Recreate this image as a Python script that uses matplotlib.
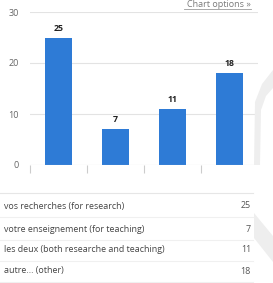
import numpy as np
import matplotlib
matplotlib.use("Agg")
import matplotlib.pyplot as plt
from matplotlib.patches import Polygon

# data
categories = ["vos recherches (for research)",
              "votre enseignement (for teaching)",
              "les deux (both researche and teaching)",
              "autre... (other)"]
counts = [25, 7, 11, 18]
y_ticks = [0, 10, 20, 30]

W, H = 273, 283
fig = plt.figure(figsize=(W / 100, H / 100), dpi=100)
fig.patch.set_facecolor("white")


def fx(px):
    return px / W


def fy(py):
    return 1 - py / H


# faint background shapes at right edge
shade = "#eeeeee"
up = [(273, 70), (262, 84), (255, 102), (254, 165), (260, 165), (261, 110), (266, 96), (273, 88)]
low = [(254, 213), (273, 236), (273, 262), (254, 238)]
for pts in (up, low):
    fig.patches.append(Polygon([(fx(x), fy(y)) for x, y in pts], closed=True,
                               transform=fig.transFigure, facecolor=shade,
                               edgecolor="none", zorder=0))

# bar chart
ax = fig.add_axes([fx(30), fy(165), fx(258) - fx(30), fy(12) - fy(165)])
ax.set_facecolor("none")
x = np.arange(len(counts))
ax.bar(x, counts, width=0.47, color="#2e7bd6", zorder=3)
for xi, v in zip(x, counts):
    ax.annotate(str(v), (xi, v), xytext=(0, 3.5), textcoords="offset points",
                ha="center", va="bottom", fontsize=6.3, fontweight="bold",
                color="#222222", family="Open Sans")

ax.set_xlim(-0.5, len(counts) - 0.5)
ax.set_ylim(0, 30)
ax.set_yticks(y_ticks)
ax.set_yticklabels([str(t) for t in y_ticks], fontsize=6.5, color="#666666",
                   family="Open Sans")
ax.tick_params(axis="y", length=0, pad=8)
for t in y_ticks[1:]:
    ax.axhline(t, color="#e3e3e3", lw=0.8, zorder=1)
ax.axhline(0, color="#cccccc", lw=0.8, zorder=4)
ax.set_xticks(np.arange(-0.5, len(counts) - 1, 1.0))
ax.set_xticklabels([])
ax.tick_params(axis="x", length=5.5, color="#cccccc", width=0.8)
for s in ax.spines.values():
    s.set_visible(False)

# "Chart options" link
fig.text(fx(251), fy(4.5), "Chart options \u00bb", ha="right", va="center",
         fontsize=6.5, color="#7a7a7a", family="Open Sans")
fig.add_artist(plt.Line2D([fx(184), fx(251)], [fy(9), fy(9)],
                          color="#9a9a9a", lw=0.6))

# summary table
fig.add_artist(plt.Line2D([0, fx(253)], [fy(193), fy(193)], color="#e6e6e6", lw=0.8))
row_y = [206, 229, 250, 271]
for i, (lab, v) in enumerate(zip(categories, counts)):
    fig.text(fx(4), fy(row_y[i]), lab, ha="left", va="center", fontsize=6.4,
             color="#444444", family="Open Sans")
    fig.text(fx(251), fy(row_y[i]), str(v), ha="right", va="center", fontsize=6.4,
             color="#555555", family="Open Sans")
    ly = row_y[i] + 11
    fig.add_artist(plt.Line2D([0, fx(253)], [fy(ly), fy(ly)], color="#f0f0f0", lw=0.8))

fig.savefig("out.png", dpi=100)
